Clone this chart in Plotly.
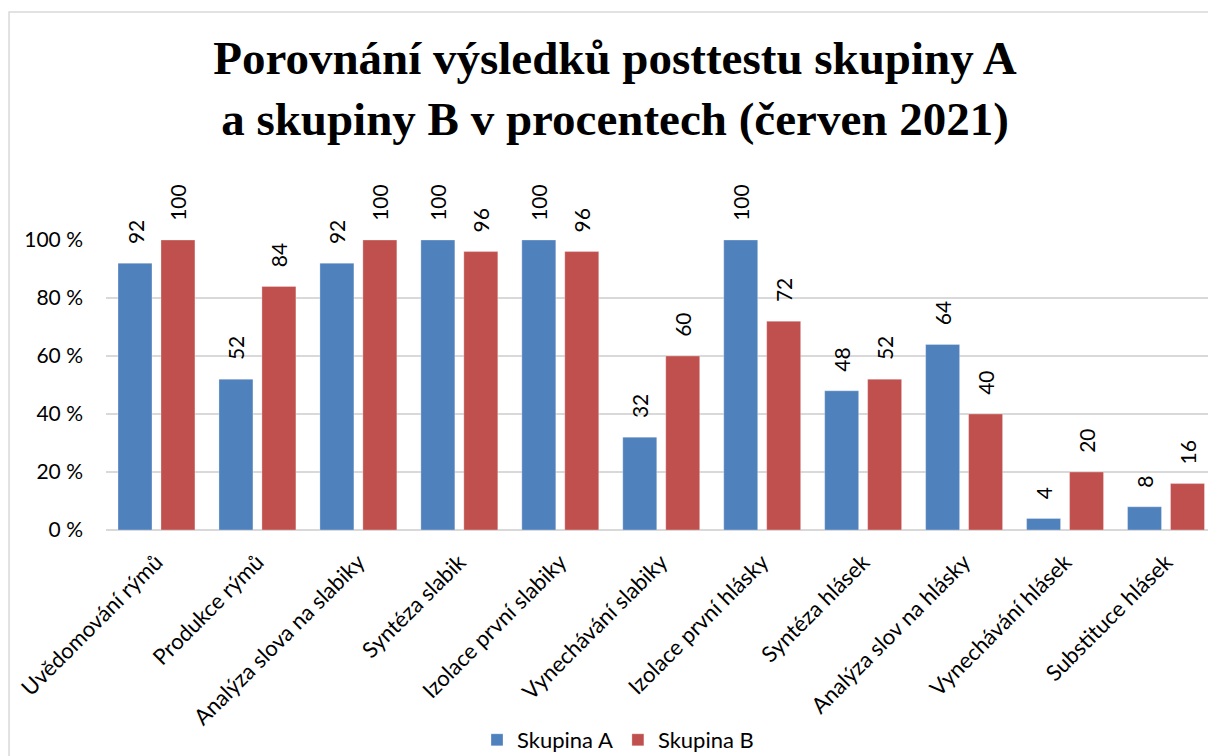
import plotly.graph_objects as go

categories = ["Uvědomování rýmů", "Produkce rýmů", "Analýza slova na slabiky", "Syntéza slabik",
              "Izolace první slabiky", "Vynechávání slabiky", "Izolace první hlásky", "Syntéza hlásek",
              "Analýza slov na hlásky", "Vynechávání hlásek", "Substituce hlásek"]
skupina_a = [92, 52, 92, 100, 100, 32, 100, 48, 64, 4, 8]
skupina_b = [100, 84, 100, 96, 96, 60, 72, 52, 40, 20, 16]
y_ticks = [0, 20, 40, 60, 80, 100]
y_tick_labels = ["0 %", "20 %", "40 %", "60 %", "80 %", "100 %"]

W, H = 1208, 756
L, R, T, B = 105.5, 0, 240, 226
font_fam = "Lato, 'Open Sans', sans-serif"

fig = go.Figure()
for name, vals, col in [("Skupina A", skupina_a, "#4F81BD"), ("Skupina B", skupina_b, "#C0504D")]:
    fig.add_trace(go.Bar(
        x=categories, y=vals, name=name, marker_color=col,
        marker_line=dict(color="rgba(255,255,255,0.6)", width=0.5),
        text=[str(v) for v in vals],
        texttemplate="\u00a0\u00a0\u00a0%{text}",
        textposition="outside", textangle=-90, cliponaxis=False, constraintext="none",
        textfont=dict(family=font_fam, size=21, color="#000000"),
    ))

plot_w = W - L - R
plot_h = H - T - B
bx0 = (8.5 - L) / plot_w
by1 = (530 - 12) / plot_h

fig.update_layout(
    width=W, height=H, autosize=False,
    margin=dict(l=L, r=R, t=T, b=B, pad=0, autoexpand=False),
    paper_bgcolor="white", plot_bgcolor="white",
    barmode="group", bargap=0.149, bargroupgap=0.209,
    title=dict(text="<b>Porovnání výsledků posttestu skupiny A<br>a skupiny B v procentech (červen 2021)</b>",
               x=615 / W, xref="container", xanchor="center",
               y=1 - 74 / H, yref="container", yanchor="middle",
               font=dict(family="'Liberation Serif', 'Times New Roman', serif", size=47, color="#000000")),
    xaxis=dict(range=[-0.5, -0.5 + plot_w / 101.0], tickangle=-45, showgrid=False, automargin=False,
               showline=False, ticks="", ticklabelstandoff=14,
               tickfont=dict(family=font_fam, size=22, color="#000000")),
    yaxis=dict(range=[0, 100], tickvals=y_ticks, ticktext=y_tick_labels, automargin=False,
               showgrid=True, gridcolor="#D9D9D9", gridwidth=1.5, zeroline=True,
               zerolinecolor="#D9D9D9", zerolinewidth=1.5,
               ticks="", ticklabelstandoff=22, showline=False,
               tickfont=dict(family=font_fam, size=21, color="#000000")),
    legend=dict(orientation="h", x=618 / W, xref="container", xanchor="center",
                y=1 - 740 / H, yref="container", yanchor="middle",
                font=dict(family=font_fam, size=22, color="#000000"),
                itemwidth=30, traceorder="normal"),
    showlegend=True,
    shapes=[dict(type="rect", xref="paper", yref="paper", x0=bx0, x1=1.05, y0=-1.0, y1=by1,
                 line=dict(color="#D9D9D9", width=1.5), fillcolor="rgba(0,0,0,0)", layer="below")],
)

fig.write_html("out.html", config={"displayModeBar": False},
               post_script="document.body.style.margin='0';document.body.style.overflow='hidden';")
